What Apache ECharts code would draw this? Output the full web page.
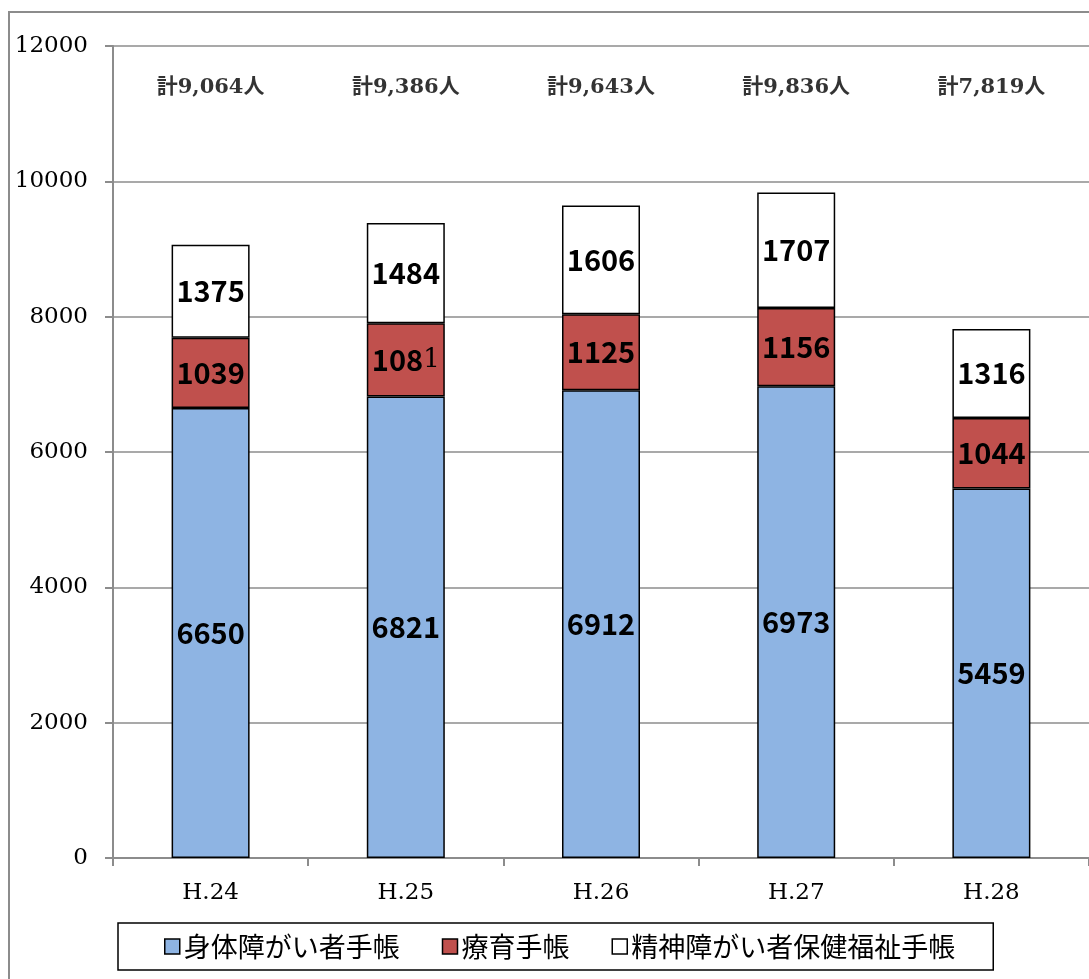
<!DOCTYPE html>
<html><head><meta charset="utf-8">
<script src="https://cdn.jsdelivr.net/npm/echarts@6/dist/echarts.min.js"></script>
<style>html,body{margin:0;padding:0;background:#fff}#c{width:1089px;height:979px}</style>
</head><body><div id="c"></div>
<script>
var categories = ['H.24','H.25','H.26','H.27','H.28'];
var shintai = [6650, 6821, 6912, 6973, 5459];
var ryoiku = [1039, 1081, 1125, 1156, 1044];
var seishin = [1375, 1484, 1606, 1707, 1316];
var totalLabels = ['計9,064人','計9,386人','計9,643人','計9,836人','計7,819人'];
var seriesNames = ['身体障がい者手帳','療育手帳','精神障がい者保健福祉手帳'];
var yTicks = [0, 2000, 4000, 6000, 8000, 10000, 12000];
var totalLabelLevel = 11380;

var chart = echarts.init(document.getElementById('c'));
var serif = '"DejaVu Serif", "Liberation Serif", serif';
var labelFont = '"Noto Sans CJK JP", "Liberation Sans", sans-serif';
function barSeries(name, data, color, fmt){
  var lbl = {show:true, position:'inside', color:'#000', fontSize:29, fontWeight:'bold', fontFamily:labelFont,
    rich:{s:{fontSize:26, fontWeight:'normal', fontFamily:serif, color:'#000'}}};
  if (fmt) lbl.formatter = fmt;
  return {name:name, type:'bar', stack:'t', data:data, barWidth:78,
    itemStyle:{color:color, borderColor:'#000', borderWidth:1.5},
    label:lbl};
}
// the reference renders the last digit of H.25's 療育手帳 label in a regular serif face
function ryoikuFmt(p){
  var s = String(p.value);
  if (p.dataIndex === 1) return s.slice(0, -1) + '{s|' + s.slice(-1) + '}';
  return s;
}
chart.setOption({
  animation:false,
  graphic:[{type:'rect', shape:{x:9, y:12, width:1200, height:1100}, style:{fill:'none', stroke:'#8c8c8c', lineWidth:2}, z:-1}],
  grid:{left:113, right:-1, top:46, bottom:121},
  legend:{
    top:923, left:118, itemWidth:15, itemHeight:15, itemGap:42, icon:'rect',
    padding:[10,38,10,46], borderColor:'#000', borderWidth:1.5,
    textStyle:{fontSize:27, fontFamily:'"Noto Sans CJK JP", sans-serif', color:'#000', padding:[0,0,0,-1]},
    data:seriesNames.map(function(n){return {name:n, itemStyle:{borderColor:'#000', borderWidth:1.5}};})
  },
  xAxis:{type:'category', data:categories,
    axisLine:{lineStyle:{color:'#8c8c8c', width:2}},
    axisTick:{show:true, length:8, lineStyle:{color:'#8c8c8c', width:2}},
    axisLabel:{fontSize:23, fontFamily:serif, color:'#000', margin:24}},
  yAxis:{type:'value', min:yTicks[0], max:yTicks[yTicks.length-1], interval:2000,
    axisLine:{show:true, lineStyle:{color:'#8c8c8c', width:2}},
    axisTick:{show:true, length:8, lineStyle:{color:'#8c8c8c', width:2}},
    splitLine:{lineStyle:{color:'#8c8c8c', width:1.5}},
    axisLabel:{fontSize:23, fontFamily:serif, color:'#000', margin:25, formatter:function(v){return String(v);}}},
  series:[
    barSeries(seriesNames[0], shintai, '#8EB4E3'),
    barSeries(seriesNames[1], ryoiku, '#C0504D', ryoikuFmt),
    barSeries(seriesNames[2], seishin, '#FFFFFF'),
    {type:'scatter', data:categories.map(function(){return totalLabelLevel;}), symbolSize:1,
     itemStyle:{color:'rgba(0,0,0,0)'}, silent:true, z:10,
     label:{show:true, position:'inside', color:'#000', fontSize:21, fontWeight:'bold',
       fontFamily:'"DejaVu Serif", "Noto Sans CJK JP", serif',
       formatter:function(p){return totalLabels[p.dataIndex];}}}
  ]
});
</script></body></html>
